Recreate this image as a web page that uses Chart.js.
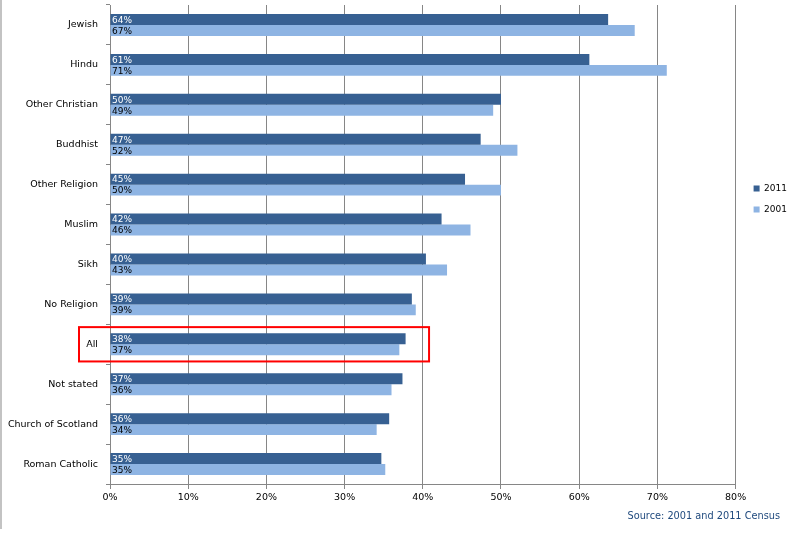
<!DOCTYPE html>
<html>
<head>
<meta charset="utf-8">
<script src="https://cdn.jsdelivr.net/npm/chart.js@4/dist/chart.umd.min.js"></script>
<style>
  html, body { margin: 0; padding: 0; background: #fff; }
  #wrap { position: relative; width: 793px; height: 536px; }
  #edge { position: absolute; left: 0; top: 0; width: 2px; height: 529px; background: #c3c3c3; }
  #source { position: absolute; right: 13px; top: 510px; font: 9.75px "DejaVu Sans", sans-serif; color: #1f497d; }
</style>
</head>
<body>
<div id="wrap">
  <canvas id="chart" width="793" height="536"></canvas>
  <div id="edge"></div>
  <div id="source">Source: 2001 and 2011 Census</div>
</div>
<script>
// Religion groups, top to bottom
const categories = ["Jewish", "Hindu", "Other Christian", "Buddhist", "Other Religion", "Muslim",
  "Sikh", "No Religion", "All", "Not stated", "Church of Scotland", "Roman Catholic"];

// Percentages
const values2011 = [63.7, 61.3, 50.0, 47.4, 45.4, 42.4, 40.4, 38.6, 37.8, 37.4, 35.7, 34.7];
const values2001 = [67.1, 71.2, 49.0, 52.1, 50.0, 46.1, 43.1, 39.1, 37.0, 36.0, 34.1, 35.2];

const xTicks = [0, 10, 20, 30, 40, 50, 60, 70, 80];

// Row highlighted with the red box
const highlight = { category: "All", upTo: 40.8 };

const FONT = "DejaVu Sans";
const GRID = "#868686";

// Percent labels drawn inside the bars, at their start
const barLabels = {
  id: "barLabels",
  afterDatasetsDraw(chart) {
    const ctx = chart.ctx;
    const colors = ["#ffffff", "#000000"];
    ctx.save();
    ctx.font = "9px " + FONT;
    ctx.textBaseline = "middle";
    ctx.textAlign = "left";
    chart.data.datasets.forEach((ds, i) => {
      chart.getDatasetMeta(i).data.forEach((bar, j) => {
        ctx.fillStyle = colors[i];
        ctx.fillText(Math.round(ds.data[j]) + "%", chart.chartArea.left + 2, bar.y + 1);
      });
    });
    ctx.restore();
  }
};

// Red box round the "All" row
const highlightBox = {
  id: "highlightBox",
  afterDraw(chart) {
    const y = chart.scales.y, x = chart.scales.x;
    const idx = categories.indexOf(highlight.category);
    const cy = y.getPixelForValue(idx);
    const step = y.getPixelForValue(1) - y.getPixelForValue(0);
    const ctx = chart.ctx;
    ctx.save();
    ctx.strokeStyle = "#ff0000";
    ctx.lineWidth = 2;
    const left = chart.chartArea.left - 31;
    const right = x.getPixelForValue(highlight.upTo);
    ctx.strokeRect(left, cy - step * 0.43, right - left, step * 0.86);
    ctx.restore();
  }
};

// Nudge the legend a little to the right of where the layout puts it
const legendShift = {
  id: "legendShift",
  afterLayout(chart) {
    if (chart.legend) {
      chart.legend.left += 6;
      chart.legend.right += 6;
    }
  }
};

new Chart(document.getElementById("chart"), {
  type: "bar",
  data: {
    labels: categories,
    datasets: [
      { label: "2011", data: values2011, backgroundColor: "#376092" },
      { label: "2001", data: values2001, backgroundColor: "#8eb4e3" }
    ]
  },
  options: {
    indexAxis: "y",
    responsive: false,
    animation: false,
    devicePixelRatio: 1,
    datasets: { bar: { categoryPercentage: 0.55, barPercentage: 1.0 } },
    layout: { padding: { top: 0, bottom: 30, right: 2, left: 0 } },
    scales: {
      x: {
        min: 0,
        max: 80,
        afterBuildTicks(scale) { scale.ticks = xTicks.map(v => ({ value: v })); },
        afterFit(scale) { scale.height = 22; },
        grid: { color: GRID, tickLength: 5, tickColor: GRID },
        border: { color: GRID },
        ticks: {
          callback: v => v + "%",
          color: "#000",
          padding: 3,
          maxRotation: 0,
          font: { family: FONT, size: 9.5 }
        }
      },
      y: {
        afterFit(scale) {
          scale.width = 110;
          scale.paddingTop = 5;
          scale.paddingBottom = 0;
        },
        grid: { drawOnChartArea: false, color: GRID, tickLength: 4 },
        border: { color: GRID },
        ticks: { color: "#000", padding: 8, font: { family: FONT, size: 9.5 } }
      }
    },
    plugins: {
      tooltip: { enabled: false },
      legend: {
        position: "right",
        align: "start",
        title: { display: true, text: "", padding: { top: 160, bottom: 0 }, font: { size: 10 } },
        labels: {
          boxWidth: 6,
          boxHeight: 6,
          padding: 12,
          color: "#000",
          font: { family: FONT, size: 9 }
        }
      }
    }
  },
  plugins: [barLabels, highlightBox, legendShift]
});
</script>
</body>
</html>
